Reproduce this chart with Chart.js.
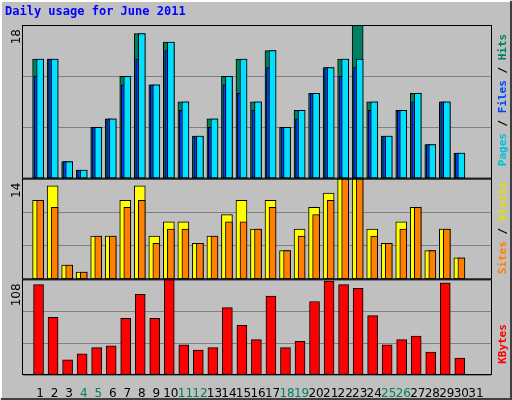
<!DOCTYPE html>
<html><head><meta charset="utf-8">
<script src="https://cdn.jsdelivr.net/npm/chart.js@4/dist/chart.umd.min.js"></script>
<style>html,body{margin:0;padding:0;background:#c0c0c0}canvas{display:block}</style>
</head><body>
<div style="width:512px;height:400px"><canvas id="c"></canvas></div>
<script>
const days = Array.from({length:31},(_, i)=>i+1);
const weekendDays = [4,5,11,12,18,19,25,26];
const hits   = [14,14,2,1,6,7,12,17,11,16,9,5,7,12,14,9,15,6,8,10,13,14,18,9,5,8,10,4,9,3,0];
const files  = [12,14,2,1,6,7,11,14,11,15,8,5,6,11,10,8,13,6,7,10,13,12,13,8,5,8,9,4,9,3,0];
const pages  = [14,14,2,1,6,7,12,17,11,16,9,5,7,12,14,9,15,6,8,10,13,14,14,9,5,8,10,4,9,3,0];
const visits = [11,13,2,1,6,6,11,13,6,8,8,5,6,9,11,7,11,4,7,10,12,14,14,7,5,8,10,4,7,3,0];
const sites  = [11,10,2,1,6,6,10,11,5,7,7,5,6,8,8,7,10,4,6,9,11,14,14,6,5,7,10,4,7,3,0];
const kbytes = [102,65,17,24,31,33,64,91,64,108,34,28,31,76,56,40,89,31,38,83,106,102,98,67,34,40,44,26,104,19,0];
const maxLabels = {yTop:'18', yMid:'14', yBot:'108'};
const titleText = 'Daily usage for June 2011';

function pts(arr, off){ return arr.map((v,i)=>({x:days[i]+off, y:v})); }
function ds(label, arr, off, w, color, axis, order){
  return {label, data:pts(arr,off), backgroundColor:color, borderColor:'#000', borderWidth:1,
    barThickness:w, grouped:false, yAxisID:axis, order, borderSkipped:false};
}
const yBase = (max, w) => ({type:'linear', min:0, max, stack:'s', stackWeight:w, offset:false,
  ticks:{display:false, stepSize:max/3}, grid:{color:'#808080', lineWidth:1, drawTicks:false},
  border:{display:false}, afterFit:s=>{s.width=0;}});

const deco = {
  id:'deco',
  beforeDraw(ch){
    const c=ch.ctx; c.save();
    c.fillStyle='#c0c0c0'; c.fillRect(0,0,512,400);
    c.strokeStyle='#fff'; c.lineWidth=2; c.beginPath(); c.moveTo(1,399); c.lineTo(1,1); c.lineTo(511,1); c.stroke();
    c.strokeStyle='#404040'; c.beginPath(); c.moveTo(1,399); c.lineTo(511,399); c.lineTo(511,1); c.stroke();
    c.restore();
  },
  afterDraw(ch){
    const c=ch.ctx; c.save();
    const ids=['yTop','yMid','yBot'];
    c.strokeStyle='#000'; c.lineWidth=1;
    ids.forEach(id=>{const s=ch.scales[id];
      c.strokeRect(ch.chartArea.left-0.5, s.top+0.5, ch.chartArea.right-ch.chartArea.left+1, s.bottom-s.top-1);
      c.save(); c.translate(17, s.top+4); c.rotate(-Math.PI/2);
      c.font='12px "DejaVu Sans"'; c.fillStyle='#000'; c.textAlign='right'; c.textBaseline='middle';
      c.fillText(maxLabels[id],0,0); c.restore();
    });
    c.font='bold 12px "DejaVu Sans Mono"'; c.fillStyle='#0000ff'; c.textBaseline='alphabetic';
    c.fillText(titleText,5,15);
    const leg=(parts,cy)=>{
      c.save(); c.font='bold 11px "DejaVu Sans Mono"';
      const total=parts.reduce((a,p)=>a+c.measureText(p[0]).width,0);
      c.translate(503,cy); c.rotate(-Math.PI/2); c.textBaseline='middle';
      let x=-total/2;
      parts.forEach(p=>{c.fillStyle=p[1]; c.fillText(p[0],x,0); x+=c.measureText(p[0]).width;});
      c.restore();
    };
    leg([['Pages','#00c0e0'],[' / ','#000'],['Files','#0040ff'],[' / ','#000'],['Hits','#008060']],100);
    leg([['Sites','#ff8000'],[' / ','#000'],['Visits','#e0e000']],228);
    leg([['KBytes','#ff0000']],344);
    c.restore();
  }
};

new Chart(document.getElementById('c'),{
  type:'bar',
  data:{datasets:[
    ds('Pages',pages,0,7,'#00e0ff','yTop',1),
    ds('Files',files,-0.28,4,'#0040ff','yTop',2),
    ds('Hits',hits,-0.14,11,'#008060','yTop',3),
    ds('Sites',sites,0,7,'#ff8000','yMid',4),
    ds('Visits',visits,-0.14,11,'#ffff00','yMid',5),
    ds('KBytes',kbytes,-0.11,10,'#ff0000','yBot',6)
  ]},
  options:{responsive:true, maintainAspectRatio:false, animation:false,
    layout:{padding:{left:23,right:21,top:25,bottom:0}},
    plugins:{legend:{display:false},tooltip:{enabled:false}},
    scales:{
      x:{type:'linear', min:0.34, max:31.52, grid:{display:false}, border:{display:false},
        afterBuildTicks:s=>{s.ticks=days.map(d=>({value:d}));},
        afterFit:s=>{s.height=25;},
        ticks:{autoSkip:false, maxRotation:0, padding:4, font:{family:'DejaVu Sans',size:12},
          color:ctx=>weekendDays.includes(ctx.tick.value)?'#008060':'#000',
          callback:v=>String(v)}},
      yBot:yBase(108,94),
      yMid:yBase(14,99),
      yTop:yBase(18,151)
    }
  },
  plugins:[deco]
});
</script>
</body></html>
